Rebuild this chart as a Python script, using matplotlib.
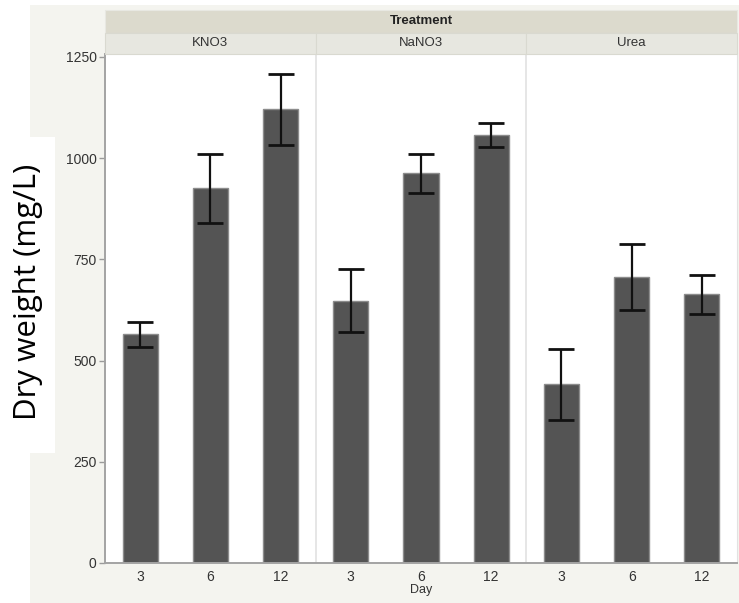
import matplotlib
matplotlib.use("Agg")
import matplotlib.pyplot as plt
from matplotlib.patches import Rectangle

# =========================
# Data
# =========================
treatments = ["KNO3", "NaNO3", "Urea"]
days = ["3", "6", "12"]
kno3_mean = [565, 925, 1120]
kno3_err = [31, 85, 88]
nano3_mean = [648, 962, 1057]
nano3_err = [77, 48, 29]
urea_mean = [441, 706, 664]
urea_err = [87, 82, 48]

W, H = 739, 603
BG = "#f4f4ef"
HEAD1 = "#dcdacd"
HEAD2 = "#e7e7e0"
plt.rcParams["font.family"] = ["Liberation Sans", "DejaVu Sans"]


def fx(px):
    return px / W


def fy(py):
    return 1 - py / H


fig = plt.figure(figsize=(W / 100, H / 100), dpi=100, facecolor="white")

# outer grey-beige background and white box behind the y label
fig.add_artist(Rectangle((fx(30), 0), 1 - fx(30), fy(5), transform=fig.transFigure,
                         facecolor=BG, edgecolor="none", zorder=0))
fig.add_artist(Rectangle((0, fy(453)), fx(55), fy(137) - fy(453), transform=fig.transFigure,
                         facecolor="white", edgecolor="none", zorder=1))
fig.text(fx(28), fy(292), "Dry weight (mg/L)", rotation=90, ha="center", va="center",
         fontsize=22.5, family=["Open Sans", "DejaVu Sans"], color="black", zorder=2)

# main axes
left, right, top, bottom = 105, 737, 54, 563
ax = fig.add_axes([fx(left), fy(bottom), fx(right - left), fy(top) - fy(bottom)])
ax.set_facecolor("white")

means = kno3_mean + nano3_mean + urea_mean
errs = kno3_err + nano3_err + urea_err
xpos = [3 * i + j + 0.5 for i in range(len(treatments)) for j in range(len(days))]

ax.bar(xpos, means, width=0.5, color="#545454", edgecolor="#8c8c8c", linewidth=1, zorder=2)
ax.errorbar(xpos, means, yerr=errs, fmt="none", ecolor="#111111", elinewidth=1.6,
            capsize=9.5, capthick=2, zorder=3)

for xv in [3, 6]:
    ax.axvline(xv, color="#e2e2e2", linewidth=1.2, zorder=1)

ax.set_xlim(0, 9)
ax.set_ylim(0, 1257)
ax.set_yticks([0, 250, 500, 750, 1000, 1250])
ax.set_xticks(xpos)
ax.set_xticklabels(days * len(treatments))
ax.tick_params(axis="y", length=4, width=1, color="#9a9a9a", labelsize=10, labelcolor="#333333", pad=2)
ax.tick_params(axis="x", length=0, labelsize=10, labelcolor="#333333", pad=5)
ax.set_xlabel("Day", fontsize=9, color="#333333", labelpad=0)

ax.spines["top"].set_visible(False)
ax.spines["right"].set_color("#e2e2e2")
for s in ["left", "bottom"]:
    ax.spines[s].set_color("#a3a3a3")
    ax.spines[s].set_linewidth(1.4)

# facet headers
fig.add_artist(Rectangle((fx(left), fy(33)), fx(right - left), fy(10) - fy(33),
                         transform=fig.transFigure, facecolor=HEAD1, edgecolor="#e8e8e2",
                         linewidth=0.8, zorder=2))
fig.text(fx((left + right) / 2), fy(21.5), "Treatment", ha="center", va="center",
         fontsize=9.5, fontweight="bold", color="#222222", zorder=3)
pw = (right - left) / 3
for i, name in enumerate(treatments):
    x0 = left + i * pw
    fig.add_artist(Rectangle((fx(x0), fy(top)), fx(pw), fy(33) - fy(top),
                             transform=fig.transFigure, facecolor=HEAD2, edgecolor="#d9d9d0",
                             linewidth=0.8, zorder=2))
    fig.text(fx(x0 + pw / 2), fy(43.5), name, ha="center", va="center",
             fontsize=9.5, color="#333333", zorder=3)

fig.savefig("out.png", dpi=100, facecolor="white")
